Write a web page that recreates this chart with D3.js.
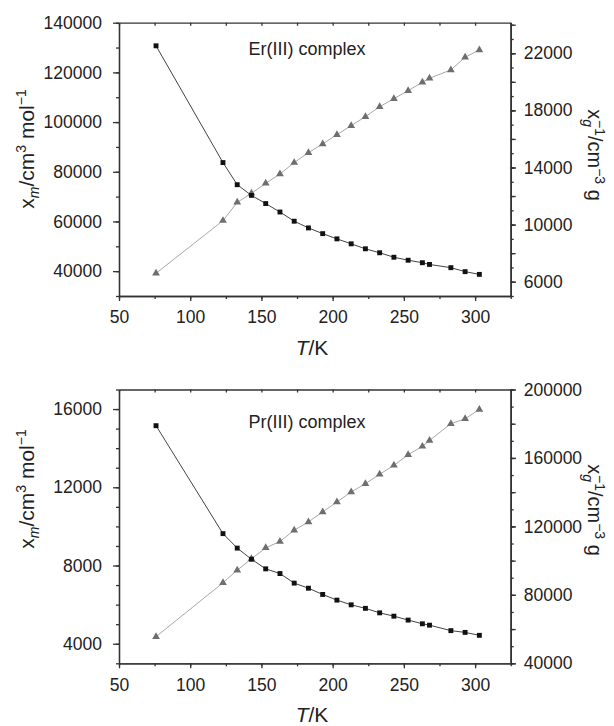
<!DOCTYPE html>
<html>
<head>
<meta charset="utf-8">
<script src="https://cdn.jsdelivr.net/npm/d3@7"></script>
<style>
  body { margin: 0; background: #fff; }
  text { font-family: "Liberation Sans", Arial, sans-serif; fill: #222; }
</style>
</head>
<body>
<div id="chart"></div>
<script>
// temperatures (K), same for both complexes
var temps = [76, 123, 133, 143, 153, 163, 173, 183, 193, 203, 213, 223, 233, 243, 253, 263, 268, 283, 293, 303];

// Er(III) complex
var erChiM = [130700, 83700, 74800, 70500, 67200, 63800, 60100, 57400, 55100, 53000,
              51000, 49000, 47400, 45600, 44400, 43400, 42700, 41400, 39800, 38700];
var erChiInv = [6590, 10280, 11560, 12190, 12890, 13550, 14340, 15040, 15650, 16300,
                16930, 17560, 18260, 18820, 19380, 19970, 20250, 20830, 21720, 22230];

// Pr(III) complex
var prChiM = [15150, 9630, 8890, 8320, 7830, 7590, 7100, 6840, 6520, 6230,
              5990, 5810, 5580, 5410, 5210, 5020, 4950, 4670, 4580, 4430];
var prChiInv = [55560, 87050, 94440, 101050, 107470, 111160, 117770, 122630, 128460, 134290,
                140120, 144980, 150430, 155680, 161900, 166760, 170260, 179980, 182890, 188340];

// tick labels
var xTicks = [50, 100, 150, 200, 250, 300];
var erLeftTicks = [40000, 60000, 80000, 100000, 120000, 140000];
var erRightTicks = [6000, 10000, 14000, 18000, 22000];
var prLeftTicks = [4000, 8000, 12000, 16000];
var prRightTicks = [40000, 80000, 120000, 160000, 200000];

var width = 614, height = 726;
var left = 119, right = 510.7;
var fmt = d3.format("d");

var svg = d3.select("#chart").append("svg")
            .attr("width", width)
            .attr("height", height);

var x = d3.scaleLinear().domain([50, 325]).range([left, right]);

var styleAxis = function(g) {
  g.selectAll("path, line").attr("stroke", "#333").attr("stroke-width", 1.3);
  g.selectAll("text").style("font-size", "17.5px").attr("fill", "#222");
};

// builds label from pieces: [text, shift, italic, dx]
var richText = function(sel, parts) {
  var cur = 0;
  parts.forEach(function(p) {
    var shift = p[1] || 0;
    var t = sel.append("tspan").text(p[0]).attr("dy", shift - cur);
    cur = shift;
    if (shift != 0) t.style("font-size", "14px");
    if (p[2]) t.style("font-style", "italic");
    if (p[3]) t.attr("dx", p[3]);
  });
};

var drawPanel = function(p) {
  var yL = d3.scaleLinear().domain(p.leftDomain).range([p.bottom, p.top]);
  var yR = d3.scaleLinear().domain(p.rightDomain).range([p.bottom, p.top]);
  var g = svg.append("g");

  // minor ticks first
  g.append("g").attr("transform", "translate(" + left + ",0)")
    .call(d3.axisLeft(yL).tickValues(p.leftMinor).tickSize(3).tickSizeOuter(0).tickFormat(""))
    .call(styleAxis);
  g.append("g").attr("transform", "translate(" + left + ",0)")
    .call(d3.axisLeft(yL).tickValues(p.leftTicks).tickSize(6).tickSizeOuter(0).tickPadding(11).tickFormat(fmt))
    .call(styleAxis);

  g.append("g").attr("transform", "translate(" + right + ",0)")
    .call(d3.axisRight(yR).tickValues(p.rightMinor).tickSize(3).tickSizeOuter(0).tickFormat(""))
    .call(styleAxis);
  g.append("g").attr("transform", "translate(" + right + ",0)")
    .call(d3.axisRight(yR).tickValues(p.rightMajor).tickSize(5).tickSizeOuter(0).tickFormat(""))
    .call(styleAxis);
  g.append("g").attr("transform", "translate(" + right + ",0)")
    .call(d3.axisRight(yR).tickValues(p.rightTicks).tickSize(5).tickSizeOuter(0).tickPadding(8).tickFormat(fmt))
    .call(styleAxis);

  var xMinor = d3.range(50, 326, 25);
  g.append("g").attr("transform", "translate(0," + p.bottom + ")")
    .call(d3.axisBottom(x).tickValues(xMinor).tickSize(3).tickSizeOuter(0).tickFormat(""))
    .call(styleAxis);
  g.append("g").attr("transform", "translate(0," + p.bottom + ")")
    .call(d3.axisBottom(x).tickValues(xTicks).tickSize(5).tickSizeOuter(0).tickPadding(10).tickFormat(fmt))
    .call(styleAxis);
  // top border, ticks inward
  g.append("g").attr("transform", "translate(0," + p.top + ")")
    .call(d3.axisTop(x).tickValues(xMinor).tickSize(-3).tickSizeOuter(0).tickFormat(""))
    .call(styleAxis);

  var pts = temps.map(function(t, i) { return {t: t, a: p.chiM[i], b: p.chiInv[i]}; });

  var lineA = d3.line().x(function(d) { return x(d.t); }).y(function(d) { return yL(d.a); });
  var lineB = d3.line().x(function(d) { return x(d.t); }).y(function(d) { return yR(d.b); });

  g.append("path").datum(pts).attr("d", lineB)
    .attr("fill", "none").attr("stroke", "#a8a8a8").attr("stroke-width", 1);
  g.append("path").datum(pts).attr("d", lineA)
    .attr("fill", "none").attr("stroke", "#444").attr("stroke-width", 1);

  g.selectAll(".tri").data(pts).enter().append("path")
    .attr("class", "tri")
    .attr("d", d3.symbol().type(d3.symbolTriangle).size(26))
    .attr("transform", function(d) { return "translate(" + x(d.t) + "," + yR(d.b) + ")"; })
    .attr("fill", "#6e6e6e");

  g.selectAll(".sq").data(pts).enter().append("path")
    .attr("class", "sq")
    .attr("d", d3.symbol().type(d3.symbolSquare).size(24))
    .attr("transform", function(d) { return "translate(" + x(d.t) + "," + yL(d.a) + ")"; })
    .attr("fill", "#111");

  g.append("text")
    .attr("x", 307).attr("y", p.top + p.noteY)
    .attr("text-anchor", "middle")
    .style("font-size", "18px")
    .text(p.note);

  // axis titles
  var tk = g.append("text")
    .attr("x", 312).attr("y", p.bottom + 59)
    .attr("text-anchor", "middle")
    .style("font-size", "21px");
  tk.append("tspan").style("font-style", "italic").text("T");
  tk.append("tspan").text("/K");

  var lt = g.append("text")
    .attr("transform", "translate(34," + p.leftTitleY + ") rotate(-90)")
    .attr("text-anchor", "middle")
    .style("font-size", "21px");
  richText(lt, [["x", 0], ["m", 5, true], ["/cm", 0], ["3", -8], [" mol", 0], ["\u22121", -8]]);

  var rt = g.append("text")
    .attr("transform", "translate(588," + p.rightTitleY + ") rotate(90)")
    .attr("text-anchor", "middle")
    .style("font-size", "20px");
  richText(rt, [["x", 0], ["g", 5, true], ["\u22121", -7, false, -7], ["/cm", 0], ["\u22123", -7], [" g", 0]]);
};

drawPanel({
  top: 22.7, bottom: 296,
  leftDomain: [30000, 140000], rightDomain: [5000, 24140],
  leftTicks: erLeftTicks, leftMinor: d3.range(30000, 140001, 10000),
  rightTicks: erRightTicks, rightMajor: d3.range(6000, 24001, 2000), rightMinor: d3.range(5000, 24001, 1000),
  chiM: erChiM, chiInv: erChiInv,
  note: "Er(III) complex", noteY: 32,
  leftTitleY: 149, rightTitleY: 155
});

drawPanel({
  top: 389.5, bottom: 663.3,
  leftDomain: [3000, 17000], rightDomain: [40000, 200000],
  leftTicks: prLeftTicks, leftMinor: d3.range(3000, 17001, 1000),
  rightTicks: prRightTicks, rightMajor: d3.range(40000, 200001, 20000), rightMinor: d3.range(40000, 200001, 10000),
  chiM: prChiM, chiInv: prChiInv,
  note: "Pr(III) complex", noteY: 38.5,
  leftTitleY: 489, rightTitleY: 510
});
</script>
</body>
</html>
